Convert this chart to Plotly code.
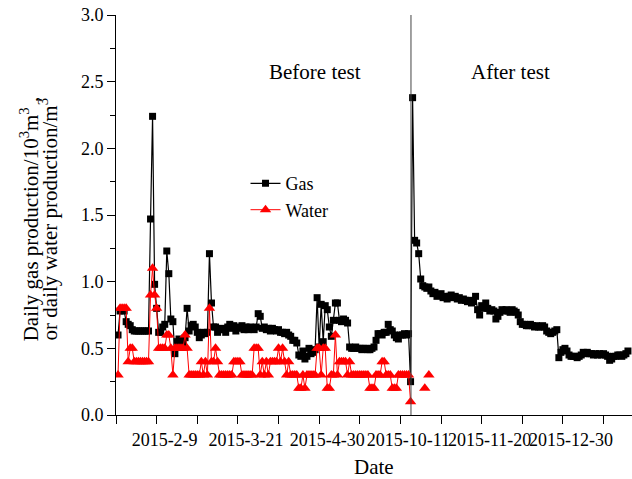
import plotly.graph_objects as go

# ---- data (daily index along the compressed date axis) ----
gas = [
    0.60, 0.78, 0.79, 0.78, 0.70, 0.68, 0.67, 0.64, 0.63, 0.63,
    0.63, 0.63, 0.63, 0.63, 0.63, 0.63, 1.47, 2.24, 0.98, 0.80,
    0.62, 0.62, 0.66, 0.68, 1.23, 1.06, 0.72, 0.70, 0.46, 0.55,
    0.57, 0.52, 0.54, 0.58, 0.80, 0.63, 0.67, 0.68, 0.66, 0.62,
    0.58, 0.60, 0.62, 0.61, 0.62, 1.21, 0.84, 0.66, 0.66, 0.62,
    0.64, 0.65, 0.64, 0.62, 0.66, 0.68, 0.65, 0.67, 0.63, 0.66,
    0.65, 0.67, 0.64, 0.66, 0.64, 0.66, 0.65, 0.64, 0.66, 0.76,
    0.74, 0.65, 0.66, 0.64, 0.65, 0.63, 0.65, 0.64, 0.63, 0.64,
    0.62, 0.62, 0.61, 0.62, 0.60, 0.59, 0.56, 0.56, 0.54, 0.45,
    0.44, 0.48, 0.42, 0.44, 0.50, 0.46, 0.47, 0.49, 0.88, 0.51,
    0.83, 0.55, 0.82, 0.79, 0.66, 0.59, 0.71, 0.84, 0.84, 0.71,
    0.70, 0.72, 0.71, 0.69, 0.51, 0.50, 0.50, 0.51, 0.50, 0.50,
    0.49, 0.50, 0.50, 0.49, 0.49, 0.50, 0.51, 0.56, 0.61, 0.61,
    0.60, 0.62, 0.62, 0.68, 0.64, 0.63, 0.60, 0.58, 0.57, 0.60,
    0.60, 0.61, 0.60, 0.61, 0.25, 2.38, 1.31, 1.29, 1.21, 1.02,
    0.97, 0.96, 0.95, 0.96, 0.93, 0.91, 0.92, 0.89, 0.90, 0.91,
    0.88, 0.89, 0.87, 0.89, 0.90, 0.88, 0.89, 0.87, 0.88, 0.86,
    0.87, 0.86, 0.85, 0.86, 0.84, 0.85, 0.89, 0.79, 0.75, 0.82,
    0.80, 0.84, 0.80, 0.78, 0.79, 0.78, 0.72, 0.74, 0.77, 0.79,
    0.78, 0.79, 0.78, 0.77, 0.79, 0.78, 0.77, 0.75, 0.70, 0.68,
    0.68, 0.67, 0.67, 0.68, 0.67, 0.66, 0.67, 0.66, 0.66, 0.67,
    0.66, 0.63, 0.62, 0.61, 0.62, 0.63, 0.64, 0.43, 0.47, 0.49,
    0.50, 0.48, 0.45, 0.44, 0.44, 0.44, 0.43, 0.44, 0.45, 0.47,
    0.46, 0.47, 0.46, 0.46, 0.45, 0.46, 0.45, 0.46, 0.45, 0.46,
    0.45, 0.44, 0.41, 0.42, 0.44, 0.44, 0.45, 0.45, 0.44, 0.45,
    0.46, 0.48,
]

water = [
    0.3, 0.8, 0.8, 0.8, 0.8, 0.4, 0.5, 0.5, 0.4, 0.4,
    0.4, 0.4, 0.4, 0.4, 0.4, 0.4, 0.9, 1.1, 0.9, 0.8,
    0.5, 0.5, 0.5, 0.5, 0.6, 0.6, 0.5, 0.3, 0.5, 0.5,
    0.5, 0.5, 0.5, 0.6, 0.5, 0.3, 0.3, 0.3, 0.3, 0.3,
    0.3, 0.4, 0.3, 0.4, 0.3, 0.8, 0.4, 0.4, 0.5, 0.4,
    0.3, 0.3, 0.3, 0.3, 0.3, 0.3, 0.3, 0.4, 0.4, 0.4,
    0.4, 0.3, 0.3, 0.3, 0.3, 0.3, 0.3, 0.5, 0.5, 0.5,
    0.3, 0.4, 0.3, 0.4, 0.3, 0.4, 0.4, 0.4, 0.4, 0.5,
    0.4, 0.5, 0.4, 0.3, 0.4, 0.3, 0.3, 0.3, 0.3, 0.2,
    0.2, 0.3, 0.2, 0.3, 0.3, 0.3, 0.3, 0.3, 0.5, 0.5,
    0.3, 0.5, 0.5, 0.2, 0.2, 0.3, 0.3, 0.6, 0.3, 0.4,
    0.4, 0.4, 0.4, 0.3, 0.4, 0.3, 0.3, 0.3, 0.3, 0.3,
    0.3, 0.3, 0.3, 0.3, 0.2, 0.2, 0.2, 0.3, 0.3, 0.3,
    0.4, 0.4, 0.3, 0.3, 0.3, 0.2, 0.2, 0.2, 0.3, 0.3,
    0.3, 0.3, 0.3, 0.3, 0.1, None, None, None, None, None,
    None, 0.2, None, 0.3,
]

day_index = list(range(1, len(gas) + 1))

tick_positions = [20, 60, 100, 140, 180, 220]
tick_labels = ["2015-2-9", "2015-3-21", "2015-4-30", "2015-10-11", "2015-11-20", "2015-12-30"]
test_split = 145.2

FONT = "Times New Roman, Liberation Serif, DejaVu Serif, serif"

fig = go.Figure()
fig.add_trace(go.Scatter(
    x=day_index, y=gas, name="Gas", mode="lines+markers",
    line=dict(color="black", width=1.2),
    marker=dict(symbol="square", size=7, color="black"),
))
fig.add_trace(go.Scatter(
    x=day_index[:len(water)], y=water, name="Water", mode="lines+markers",
    line=dict(color="red", width=1),
    marker=dict(symbol="triangle-up", size=10, color="red"),
    connectgaps=False,
))

fig.add_shape(type="line", xref="x", yref="paper", x0=test_split, x1=test_split,
              y0=0, y1=1, line=dict(color="#444444", width=1))

txt = dict(showarrow=False, xref="paper", yref="paper", xanchor="center", yanchor="middle")
fig.add_annotation(text="Before test", x=0.386, y=0.8575,
                   font=dict(family=FONT, size=21, color="black"), **txt)
fig.add_annotation(text="After test", x=0.764, y=0.8575,
                   font=dict(family=FONT, size=21, color="black"), **txt)
fig.add_annotation(text="Date", x=0.5, y=-0.13,
                   font=dict(family=FONT, size=21, color="black"), **txt)
fig.add_annotation(text="Daily gas production/10<sup>3</sup>m<sup>3</sup> ,",
                   x=-0.168, y=0.49, textangle=-90,
                   font=dict(family=FONT, size=21, color="black"), **txt)
fig.add_annotation(text="or daily water production/m<sup>3</sup>",
                   x=-0.131, y=0.49, textangle=-90,
                   font=dict(family=FONT, size=21, color="black"), **txt)

fig.update_layout(
    width=632, height=479,
    margin=dict(l=116, r=0, t=15, b=64, autoexpand=False),
    paper_bgcolor="white", plot_bgcolor="white",
    font=dict(family=FONT, size=18, color="black"),
    showlegend=True,
    legend=dict(x=0.251, y=0.546, xanchor="left", yanchor="middle",
                bgcolor="rgba(0,0,0,0)", font=dict(family=FONT, size=18)),
    xaxis=dict(
        range=[0, 254], showgrid=False, zeroline=False, automargin=False,
        showline=True, linecolor="black", linewidth=1,
        tickmode="array", tickvals=tick_positions, ticktext=tick_labels,
        ticks="outside", ticklen=8, tickcolor="black", ticklabelshift=8,
        tickangle=0,
        tickfont=dict(family=FONT, size=18),
        minor=dict(ticks="outside", ticklen=8, tick0=0, dtick=20, tickcolor="black"),
    ),
    yaxis=dict(
        range=[0, 3.0], showgrid=False, zeroline=False, automargin=False,
        showline=True, linecolor="black", linewidth=1,
        tickmode="linear", tick0=0, dtick=0.5, tickformat=".1f",
        ticks="outside", ticklen=8, tickcolor="black",
        tickfont=dict(family=FONT, size=18),
        minor=dict(ticks="outside", ticklen=5, dtick=0.25, tickcolor="black"),
    ),
)

fig.write_html("out.html", config={"displayModeBar": False},
               post_script="document.body.style.margin='0';")
